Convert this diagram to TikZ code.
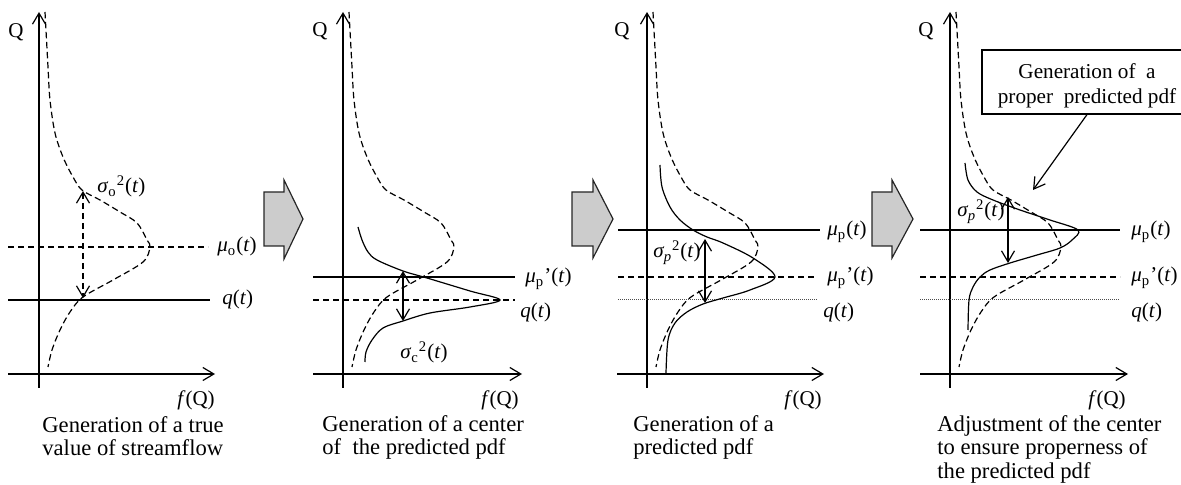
\documentclass[tikz,border=0pt]{standalone}
\usepackage{fontspec}
\setmainfont{Liberation Serif}
\usetikzlibrary{arrows.meta}
\newcommand\obsplot{plot[smooth,tension=0.55] coordinates{(6,12) (9,67) (11,100) (16,133) (24,157) (34,177) (43,190) (61,200) (81,212) (98,223) (108,240) (111,247) (104,262) (74,280) (44,297) (31,312) (21,330) (13,350) (9,367)}}
\begin{document}
\begin{tikzpicture}[x=0.5pt,y=-0.5pt,
  every node/.style={font=\fontsize{10.5}{11.5}\selectfont, inner sep=0pt},
  ln/.style={line width=0.6pt},
  dsh/.style={line width=0.6pt, dash pattern=on 3.2pt off 1.8pt},
  dtt/.style={line width=0.5pt, black!70, dash pattern=on 0.5pt off 0.5pt},
  barb/.tip={Straight Barb[length=5.5pt,width=6.5pt]},
  ax/.style={line width=0.6pt, -barb},
  dbl/.style={line width=0.6pt, barb-barb},
  lbl/.style={anchor=base west},
  captext/.style={anchor=north west, align=left, font=\fontsize{11.3}{11.6}\selectfont},
  bigarrow/.style={fill=black!20, draw=black!85, line width=0.6pt},
  boxnode/.style={draw, line width=0.6pt, minimum width=105pt, minimum height=32pt, align=center, font=\fontsize{10.6}{12.5}\selectfont, text height=24.25pt}
]
\useasboundingbox (0,0) rectangle (1181,485);

% ---------------- Panel 1 ----------------
\coordinate (y1b) at (39,388); \coordinate (y1t) at (39,12);
\coordinate (x1l) at (8,374);  \coordinate (x1r) at (215,374);
\draw[ax] (y1b) -- (y1t);
\draw[ax] (x1l) -- (x1r);
\node (Q1) at (16,32) {Q};
\node (f1) at (196,400) {\textit{f}(Q)};
\coordinate (m1l) at (8,247); \coordinate (m1r) at (208,247);
\coordinate (q1l) at (8,300); \coordinate (q1r) at (210,300);
\draw[dsh] (m1l) -- (m1r);
\draw[ln] (q1l) -- (q1r);
\begin{scope}[shift={(39,0)}]
  \draw[dsh] \obsplot;
\end{scope}
\coordinate (s1t) at (83,191); \coordinate (s1b) at (83,298);
\draw[dbl, dash pattern=on 3.2pt off 1.8pt] (s1t) -- (s1b);
\node[lbl] (l1s) at (97,193) {\textit{σ}\textsubscript{o}\textsuperscript{2}(\textit{t})};
\node[lbl] (l1m) at (217,252) {\textit{μ}\textsubscript{o}(\textit{t})};
\node[lbl] (l1q) at (222,305) {\textit{q}(\textit{t})};
\node[captext] (c1) at (42,416.4) {Generation of a true\\value of streamflow};

\draw[bigarrow] (264,192) -- (284,192) -- (284,180) -- (303,219) -- (284,259) -- (284,246) -- (264,246) -- cycle;

% ---------------- Panel 2 ----------------
\coordinate (y2b) at (343,388); \coordinate (y2t) at (343,12);
\coordinate (x2l) at (313,374); \coordinate (x2r) at (522,374);
\draw[ax] (y2b) -- (y2t);
\draw[ax] (x2l) -- (x2r);
\node (Q2) at (320,31) {Q};
\node (f2) at (500,400) {\textit{f}(Q)};
\coordinate (m2l) at (313,277); \coordinate (m2r) at (515,277);
\coordinate (q2l) at (313,300); \coordinate (q2r) at (515,300);
\draw[ln] (m2l) -- (m2r);
\draw[dsh] (q2l) -- (q2r);
\begin{scope}[shift={(343,0)}]
  \draw[dsh] \obsplot;
\end{scope}
\draw[ln] plot[smooth,tension=0.55] coordinates{(358,227) (362,240) (368,252) (377,260) (403,271) (427,278) (470,291) (500,300) (470,307) (430,313) (403,321) (383,328) (372,340) (366,352) (365,362)};
\coordinate (s2t) at (403,271); \coordinate (s2b) at (403,321);
\draw[dbl] (s2t) -- (s2b);
\node[lbl] (l2s) at (400,359) {\textit{σ}\textsubscript{c}\textsuperscript{2}(\textit{t})};
\node[lbl] (l2m) at (525,283) {\textit{μ}\textsubscript{p}'(\textit{t})};
\node[lbl] (l2q) at (520,318) {\textit{q}(\textit{t})};
\node[captext] (c2) at (322,415.4) {Generation of a center\\of\ \ the predicted pdf};

\draw[bigarrow] (572,192) -- (593,192) -- (593,180) -- (613,219) -- (593,258) -- (593,246) -- (572,246) -- cycle;

% ---------------- Panel 3 ----------------
\coordinate (y3b) at (647,388); \coordinate (y3t) at (647,12);
\coordinate (x3l) at (617,374); \coordinate (x3r) at (824,374);
\draw[ax] (y3b) -- (y3t);
\draw[ax] (x3l) -- (x3r);
\node (Q3) at (622,31) {Q};
\node (f3) at (803,400) {\textit{f}(Q)};
\coordinate (p3l) at (618,230); \coordinate (p3r) at (820,230);
\coordinate (m3l) at (618,277); \coordinate (m3r) at (817,277);
\coordinate (q3l) at (618,300); \coordinate (q3r) at (818,300);
\draw[ln] (p3l) -- (p3r);
\draw[dsh] (m3l) -- (m3r);
\draw[dtt] (q3l) -- (q3r);
\begin{scope}[shift={(647,0)}]
  \draw[dsh] \obsplot;
\end{scope}
\draw[ln] plot[smooth,tension=0.55] coordinates{(660,165) (662,187) (670,207) (680,220) (693,230) (707,237) (723,243) (753,258) (775,277) (750,290) (723,298) (703,304) (687,312) (675,323) (668,340) (666,373)};
\coordinate (s3t) at (705,239); \coordinate (s3b) at (705,303);
\draw[dbl] (s3t) -- (s3b);
\node[lbl] (l3s) at (653,258) {\textit{σ\textsubscript{p}}\textsuperscript{2}(\textit{t})};
\node[lbl] (l3p) at (827,236) {\textit{μ}\textsubscript{p}(\textit{t})};
\node[lbl] (l3m) at (827,282) {\textit{μ}\textsubscript{p}'(\textit{t})};
\node[lbl] (l3q) at (823,318) {\textit{q}(\textit{t})};
\node[captext] (c3) at (633,415.4) {Generation of a\\predicted pdf};

\draw[bigarrow] (872,192) -- (892,192) -- (892,180) -- (913,219) -- (892,258) -- (892,246) -- (872,246) -- cycle;

% ---------------- Panel 4 ----------------
\coordinate (y4b) at (950,388); \coordinate (y4t) at (950,12);
\coordinate (x4l) at (920,374); \coordinate (x4r) at (1128,374);
\draw[ax] (y4b) -- (y4t);
\draw[ax] (x4l) -- (x4r);
\node (Q4) at (926,31) {Q};
\node (f4) at (1107,400) {\textit{f}(Q)};
\coordinate (p4l) at (920,230); \coordinate (p4r) at (1120,230);
\coordinate (m4l) at (920,277); \coordinate (m4r) at (1120,277);
\coordinate (q4l) at (920,300); \coordinate (q4r) at (1120,300);
\draw[ln] (p4l) -- (p4r);
\draw[dsh] (m4l) -- (m4r);
\draw[dtt] (q4l) -- (q4r);
\begin{scope}[shift={(950,0)}]
  \draw[dsh] \obsplot;
\end{scope}
\draw[ln] plot[smooth,tension=0.55] coordinates{(965,163) (968,180) (977,192) (993,200) (1020,210) (1050,220) (1078,230) (1072,240) (1060,248) (1037,255) (1010,263) (990,270) (980,277) (973,287) (969,300) (968,330)};
\coordinate (s4t) at (1008,197); \coordinate (s4b) at (1008,263);
\draw[dbl] (s4t) -- (s4b);
\node[lbl] (l4s) at (957,217) {\textit{σ\textsubscript{p}}\textsuperscript{2}(\textit{t})};
\node[lbl] (l4p) at (1131,236) {\textit{μ}\textsubscript{p}(\textit{t})};
\node[lbl] (l4m) at (1131,282) {\textit{μ}\textsubscript{p}'(\textit{t})};
\node[lbl] (l4q) at (1131,318) {\textit{q}(\textit{t})};
\node[captext] (c4) at (937,415.4) {Adjustment of the center\\to ensure properness of\\the predicted pdf};

\node[boxnode] (box) at (1087,82) {Generation of\ \ a\\proper\ \ predicted pdf};
\coordinate (pp) at (1033,190);
\draw[ax] (box.south) -- (pp);
\end{tikzpicture}
\end{document}
